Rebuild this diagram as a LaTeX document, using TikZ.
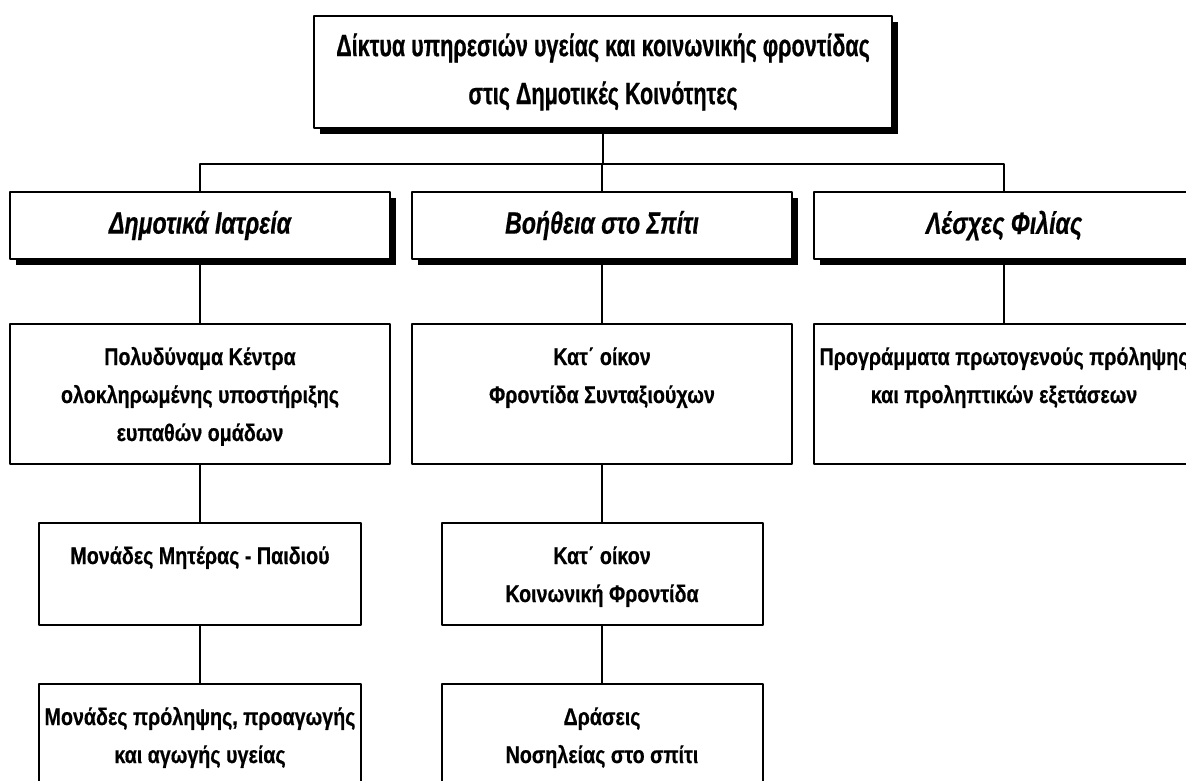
\documentclass[tikz,border=0pt]{standalone}
\usepackage{fontspec}
\setmainfont{Liberation Sans}
\newfontfamily\titlefont{Liberation Sans}[FakeStretch=0.70,FakeBold=0.6]
\newfontfamily\branchfont{Liberation Sans}[FakeStretch=0.75,FakeBold=0.6]
\newfontfamily\unitfont{Liberation Sans}[FakeStretch=0.82,FakeBold=0.5]
\usetikzlibrary{shadows}

\newcommand{\toptext}[3]{\parbox[c][#2][t]{#1}{\centering\rule{0pt}{20.5pt}#3}}

\begin{document}
\begin{tikzpicture}[x=0.5pt,y=-0.5pt,line cap=round,line join=round,
  every node/.style={font=\unitfont\fontsize{12}{19}\selectfont\bfseries},
  unit/.style={draw,line width=1pt,fill=white,inner sep=0pt},
  shade/.style={drop shadow={shadow xshift=3pt,shadow yshift=-3pt,fill=black,opacity=1}},
  head/.style={unit,shade,minimum width=190pt,minimum height=33.5pt,font=\branchfont\fontsize{15.4}{19}\selectfont\bfseries\itshape},
  link/.style={line width=0.8pt}]
    \useasboundingbox (0,0) rectangle (1186,780);
    \clip (0,0) rectangle (1186,780);
    % top
    \node[unit,shade,minimum width=289pt,minimum height=56pt,align=center,font=\titlefont\fontsize{15.4}{24}\selectfont\bfseries] (title) at (603,72) {Δίκτυα υπηρεσιών υγείας και κοινωνικής φροντίδας\\στις Δημοτικές Κοινότητες};
    % second level
    \node[head] (iatr) at (200,225.5) {Δημοτικά Ιατρεία};
    \node[head] (spiti) at (602,225.5) {Βοήθεια στο Σπίτι};
    \node[head] (lesx) at (1004,225.5) {Λέσχες Φιλίας};
    % units
    \node[unit] (kentra) at (200,394) {\toptext{190pt}{70pt}{Πολυδύναμα Κέντρα\\ολοκληρωμένης υποστήριξης\\ευπαθών ομάδων}};
    \node[unit] (mitera) at (200,574) {\toptext{161pt}{51pt}{Μονάδες Μητέρας - Παιδιού}};
    \node[unit] (proagogi) at (200,735) {\toptext{161pt}{51pt}{Μονάδες πρόληψης, προαγωγής\\και αγωγής υγείας}};
    \node[unit] (syntax) at (602,394) {\toptext{190pt}{70pt}{Κατ΄ οίκον\\Φροντίδα Συνταξιούχων}};
    \node[unit] (koinon) at (602,574) {\toptext{160.5pt}{51pt}{Κατ΄ οίκον\\Κοινωνική Φροντίδα}};
    \node[unit] (nosil) at (602,735) {\toptext{160.5pt}{51pt}{Δράσεις\\Νοσηλείας στο σπίτι}};
    \node[unit] (prolipsi) at (1004,394) {\toptext{190pt}{70pt}{Προγράμματα πρωτογενούς πρόληψης\\και προληπτικών εξετάσεων}};
    % links
    \draw[link] (title.south) -- ++(0,35) -| (iatr.north);
    \draw[link] (title.south) -- ++(0,35) -| (lesx.north);
    \draw[link] (title.south) -- ++(0,35) -| (spiti.north);
    \draw[link] (iatr.south) -- (kentra.north);
    \draw[link] (kentra.south) -- (mitera.north);
    \draw[link] (mitera.south) -- (proagogi.north);
    \draw[link] (spiti.south) -- (syntax.north);
    \draw[link] (syntax.south) -- (koinon.north);
    \draw[link] (koinon.south) -- (nosil.north);
    \draw[link] (lesx.south) -- (prolipsi.north);
\end{tikzpicture}
\end{document}
